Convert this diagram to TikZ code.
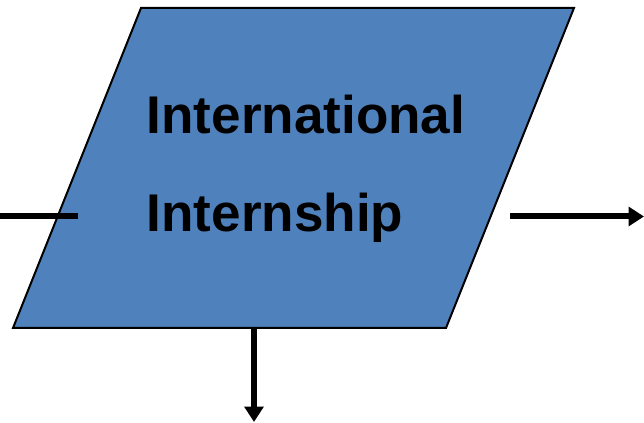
\documentclass[tikz,border=0pt]{standalone}
\usepackage{fontspec}
\setmainfont{Liberation Sans}
\usetikzlibrary{arrows.meta}

\definecolor{boxblue}{RGB}{79,129,189}

\begin{document}
\begin{tikzpicture}[x=0.75pt,y=0.75pt,yscale=-1,xscale=1]
	\useasboundingbox (0,0) rectangle (644,423);
	
	%Shape: Parallelogram [id:internship]
	\draw [fill=boxblue, line width=1.5pt] (141,8) -- (574,8) -- (446,328) -- (13,328) -- cycle ;
	
	% Connector end points
	\coordinate (inL) at (0,216.5);
	\coordinate (inR) at (78,216.5);
	\coordinate (outL) at (510,216.5);
	\coordinate (outR) at (644,216.5);
	\coordinate (downT) at (254,328);
	\coordinate (downB) at (254,422);
	
	%Straight Lines [id:incoming]
	\draw [line width=4.5pt] (inL) -- (inR) ;
	%Straight Lines [id:right out]
	\draw [line width=4.5pt, -{Triangle[width=14pt,length=11.5pt]}] (outL) -- (outR) ;
	%Straight Lines [id:down out]
	\draw [line width=4.5pt, -{Triangle[width=14pt,length=11.5pt]}] (downT) -- (downB) ;
	
	% Text Node
	\node (line1) at (146.5,134) [anchor=base west][inner sep=0pt] {\fontsize{39.8}{39.8}\selectfont\bfseries International};
	% Text Node
	\node (line2) at (146.5,232) [anchor=base west][inner sep=0pt] {\fontsize{39.8}{39.8}\selectfont\bfseries Internship};
	
\end{tikzpicture}
\end{document}
